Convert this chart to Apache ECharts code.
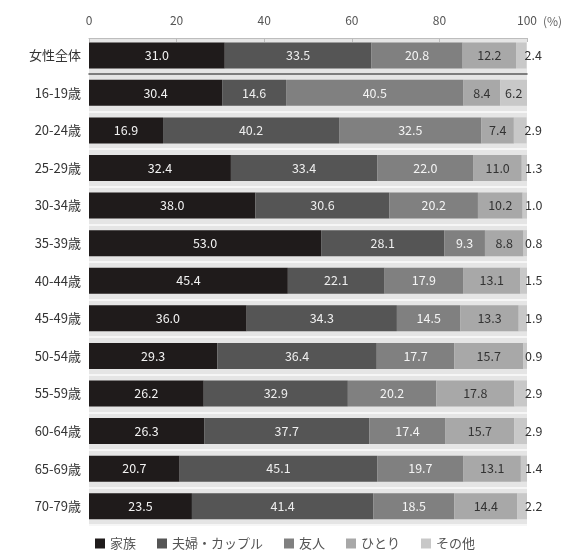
<!DOCTYPE html>
<html>
<head>
<meta charset="utf-8">
<script src="https://cdn.jsdelivr.net/npm/echarts@6/dist/echarts.min.js"></script>
<style>
  html, body { margin: 0; padding: 0; background: #fff; }
  #chart { width: 582px; height: 556px; }
</style>
</head>
<body>
<div id="chart"></div>
<script>
// Row labels: the overall row first, then the age groups
const totalCategory = ['女性全体'];
const ageCategories = ['16-19歳', '20-24歳', '25-29歳', '30-34歳', '35-39歳', '40-44歳',
  '45-49歳', '50-54歳', '55-59歳', '60-64歳', '65-69歳', '70-79歳'];

// Shares (%) per row, same order as the labels above (overall row first)
const family = [31.0, 30.4, 16.9, 32.4, 38.0, 53.0, 45.4, 36.0, 29.3, 26.2, 26.3, 20.7, 23.5];
const couple = [33.5, 14.6, 40.2, 33.4, 30.6, 28.1, 22.1, 34.3, 36.4, 32.9, 37.7, 45.1, 41.4];
const friend = [20.8, 40.5, 32.5, 22.0, 20.2, 9.3, 17.9, 14.5, 17.7, 20.2, 17.4, 19.7, 18.5];
const alone  = [12.2, 8.4, 7.4, 11.0, 10.2, 8.8, 13.1, 13.3, 15.7, 17.8, 15.7, 13.1, 14.4];
const other  = [2.4, 6.2, 2.9, 1.3, 1.0, 0.8, 1.5, 1.9, 0.9, 2.9, 2.9, 1.4, 2.2];

const seriesNames = ['家族', '夫婦・カップル', '友人', 'ひとり', 'その他'];
const valueTicks = [0, 20, 40, 60, 80, 100];

const groups = [family, couple, friend, alone, other];
const colors = ['#1f1b1b', '#555555', '#808080', '#a8a8a8', '#c8c8c8'];
const labelColors = ['#f2f2f2', '#eeeeee', '#f4f4f4', '#333333', '#333333'];

const FONT = '"Noto Sans CJK JP", "Noto Sans", sans-serif';
const chart = echarts.init(document.getElementById('chart'));

function buildSeries(gridIdx, sliceStart, sliceEnd) {
  return groups.map((arr, i) => {
    const isLast = i === groups.length - 1;
    return {
      name: seriesNames[i],
      type: 'bar',
      stack: 'g' + gridIdx,
      xAxisIndex: gridIdx,
      yAxisIndex: gridIdx,
      barWidth: 26,
      itemStyle: { color: colors[i] },
      data: arr.slice(sliceStart, sliceEnd).map(v => {
        const d = { value: v };
        // a wide enough last segment carries its label inside
        if (isLast && v > 5) d.label = { position: 'inside', offset: [0, 0] };
        return d;
      }),
      label: {
        show: true,
        position: isLast ? 'right' : 'inside',
        distance: 2,
        offset: isLast ? [-4, 0] : [0, 0],
        color: labelColors[i],
        fontFamily: FONT,
        fontSize: 12.5,
        formatter: p => p.value.toFixed(1)
      }
    };
  });
}

const gridLeft = 89, gridRight = 55;

chart.setOption({
  animation: false,
  backgroundColor: '#ffffff',
  textStyle: { fontFamily: FONT },
  legend: {
    data: seriesNames,
    bottom: 1,
    left: 90,
    itemWidth: 10,
    itemHeight: 10,
    itemGap: 21,
    icon: 'rect',
    textStyle: { color: '#555', fontSize: 13, fontFamily: FONT }
  },
  grid: [
    { left: gridLeft, right: gridRight, top: 38, height: 35, show: true, backgroundColor: '#e5e5e5', borderWidth: 0 },
    { left: gridLeft, right: gridRight, top: 74, height: 451, show: true, backgroundColor: '#e5e5e5', borderWidth: 0 }
  ],
  xAxis: [
    {
      gridIndex: 0, type: 'value', position: 'top', min: 0, max: 100, interval: 20,
      name: '(%)', nameLocation: 'end', nameGap: 16,
      nameTextStyle: { color: '#666', fontSize: 12, fontFamily: FONT, verticalAlign: 'bottom', padding: [0, 0, 11, 0] },
      axisLine: { show: true, lineStyle: { color: '#bdbdbd', width: 1 } },
      axisTick: { show: true, inside: true, length: 4, lineStyle: { color: '#bdbdbd' } },
      axisLabel: {
        color: '#555', fontSize: 12, margin: 12, fontFamily: FONT,
        formatter: v => valueTicks.includes(v) ? String(v) : ''
      },
      splitLine: { show: false }
    },
    {
      gridIndex: 1, type: 'value', position: 'top', min: 0, max: 100, interval: 20,
      axisLine: { show: true, lineStyle: { color: '#555', width: 1.5 } },
      axisTick: { show: false },
      axisLabel: { show: false },
      splitLine: { show: false }
    }
  ],
  yAxis: [
    {
      gridIndex: 0, type: 'category', inverse: true, data: totalCategory,
      axisLine: { show: false }, axisTick: { show: false },
      axisLabel: { color: '#333', fontSize: 13, margin: 8, fontFamily: FONT }
    },
    {
      gridIndex: 1, type: 'category', inverse: true, data: ageCategories,
      axisLine: { show: false }, axisTick: { show: false },
      splitLine: { show: true, lineStyle: { color: '#f6f6f6', width: 2 } },
      axisLabel: { color: '#333', fontSize: 13, margin: 8, fontFamily: FONT }
    }
  ],
  series: buildSeries(0, 0, 1).concat(buildSeries(1, 1, 13))
});
</script>
</body>
</html>
